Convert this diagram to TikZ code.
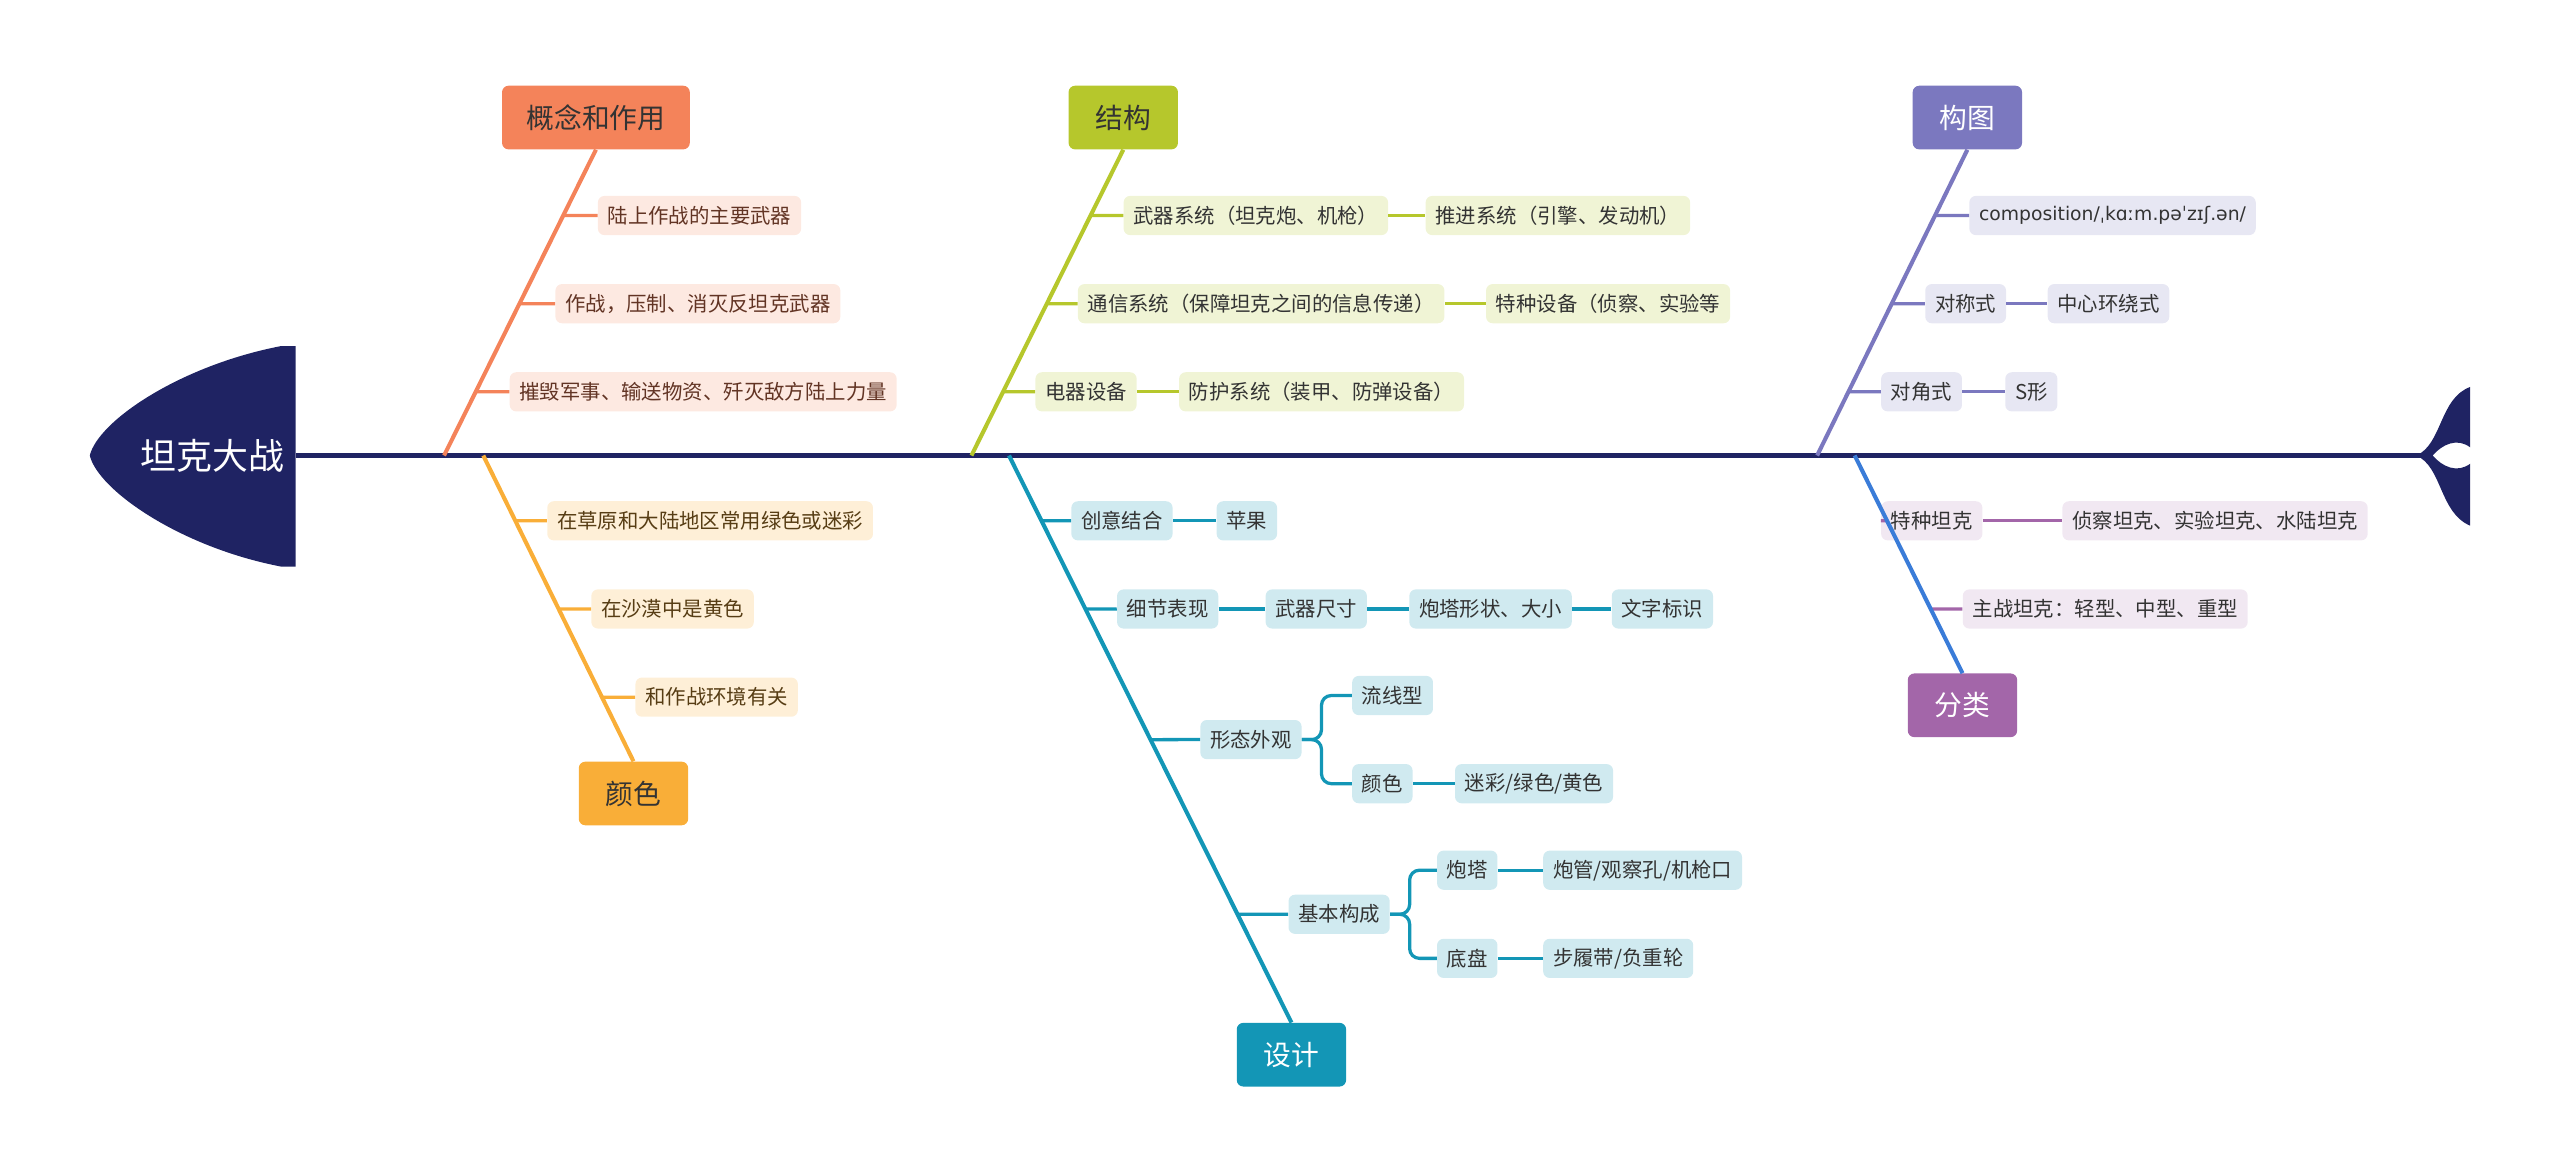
\documentclass[tikz,border=0pt]{standalone}
\usepackage{fontspec}
\setmainfont{Noto Sans CJK SC}
\newfontfamily\ipafont{DejaVu Sans}
\usetikzlibrary{positioning,calc}
\definecolor{navy}{HTML}{1F2363}
\definecolor{cOrange}{HTML}{F4835A}
\definecolor{cYellow}{HTML}{F9AE38}
\definecolor{cOlive}{HTML}{B6C72C}
\definecolor{cTeal}{HTML}{1396B6}
\definecolor{cPurple}{HTML}{7B78BF}
\definecolor{cMauve}{HTML}{A366A9}
\definecolor{cBlue}{HTML}{3A7CD8}
\tikzset{%
	% boxes
	base/.style = {rectangle, rounded corners=4pt, inner xsep=6pt, inner ysep=0pt,
		minimum height=24pt, font=\fontsize{12.5}{14}\selectfont},
	topic/.style = {base, minimum height=39pt, minimum width=67pt, inner xsep=15pt, text=white,
		font=\fontsize{17}{19}\selectfont},
	leafOrange/.style = {base, fill=cOrange!18, text=cOrange!40!black, anchor=west},
	leafYellow/.style = {base, fill=cYellow!20, text=cYellow!35!black, anchor=west},
	leafOlive/.style = {base, fill=cOlive!20, text=black!80, anchor=west},
	leafTeal/.style = {base, fill=cTeal!20, text=black!80, anchor=west},
	leafPurple/.style = {base, fill=cPurple!18, text=black!80, anchor=west},
	leafMauve/.style = {base, fill=cMauve!15, text=black!80, anchor=west},
	bone/.style = {line width=2.5pt},
	twig/.style = {line width=2pt},
}
\begin{document}
\begin{tikzpicture}[x=1pt, y=-1pt]
	\useasboundingbox (0,0) rectangle (1568,719);
	% head and tail
	\fill[navy] (181,212) -- (181,347) -- (172,347) .. controls (110,335) and (60,300) .. (55,279)
		.. controls (60,258) and (110,224) .. (172,212) -- cycle;
	\node (root) [text=white, font=\fontsize{22}{24}\selectfont] at (130,279) {坦克大战};
	\fill[navy] (1480,279) .. controls (1496,272) and (1494,244) .. (1513,237) -- (1513,274)
		.. controls (1505,268) and (1496,272) .. (1490,279) .. controls (1496,286) and (1505,290) .. (1513,284)
		-- (1513,322) .. controls (1494,314) and (1496,286) .. (1480,279) -- cycle;
	\coordinate (spineL) at (181,279);
	\coordinate (spineR) at (1484,279);
	\draw[navy, line width=3pt] (spineL) -- (spineR);
	
	% 概念和作用
	\node (use) [topic, fill=cOrange, text=black!80] at (365,72) {概念和作用};
	\coordinate (useRoot) at (272,279);
	\draw[bone, cOrange] (useRoot) -- (use.south);
	\node (use1) [leafOrange] at (366,132) {陆上作战的主要武器};
	\node (use2) [leafOrange] at (340,186) {作战，压制、消灭反坦克武器};
	\node (use3) [leafOrange] at (312,240) {摧毁军事、输送物资、歼灭敌方陆上力量};
	\foreach \n in {use1,use2,use3}
		\draw[twig, cOrange] (intersection of useRoot--use.south and \n.west--\n.east) -- (\n.west);
	
	% 颜色
	\node (color) [topic, fill=cYellow, text=black!80] at (388,486) {颜色};
	\coordinate (colorRoot) at (296,279);
	\draw[bone, cYellow] (colorRoot) -- (color.north);
	\node (color1) [leafYellow] at (335,319) {在草原和大陆地区常用绿色或迷彩};
	\node (color2) [leafYellow] at (362,373) {在沙漠中是黄色};
	\node (color3) [leafYellow] at (389,427) {和作战环境有关};
	\foreach \n in {color1,color2,color3}
		\draw[twig, cYellow] (intersection of colorRoot--color.north and \n.west--\n.east) -- (\n.west);
	
	% 结构
	\node (struct) [topic, fill=cOlive, text=black!80] at (688,72) {结构};
	\coordinate (structRoot) at (595,279);
	\draw[bone, cOlive] (structRoot) -- (struct.south);
	\node (struct1) [leafOlive] at (688,132) {武器系统（坦克炮、机枪）};
	\node (struct1a) [leafOlive] at (873,132) {推进系统（引擎、发动机）};
	\node (struct2) [leafOlive] at (660,186) {通信系统（保障坦克之间的信息传递）};
	\node (struct2a) [leafOlive] at (910,186) {特种设备（侦察、实验等};
	\node (struct3) [leafOlive] at (634,240) {电器设备};
	\node (struct3a) [leafOlive] at (722,240) {防护系统（装甲、防弹设备）};
	\foreach \n in {struct1,struct2,struct3}
		\draw[twig, cOlive] (intersection of structRoot--struct.south and \n.west--\n.east) -- (\n.west);
	\foreach \a/\b in {struct1/struct1a,struct2/struct2a,struct3/struct3a}
		\draw[twig, cOlive] (\a.east) -- (\b.west);
	
	% 设计
	\node (design) [topic, fill=cTeal, text=white] at (791,646) {设计};
	\coordinate (designRoot) at (618,279);
	\draw[bone, cTeal] (designRoot) -- (design.north);
	\node (design1) [leafTeal] at (656,319) {创意结合};
	\node (design1a) [leafTeal] at (745,319) {苹果};
	\node (design2) [leafTeal] at (684,373) {细节表现};
	\node (design2a) [leafTeal] at (775,373) {武器尺寸};
	\node (design2b) [leafTeal] at (863,373) {炮塔形状、大小};
	\node (design2c) [leafTeal] at (987,373) {文字标识};
	\node (design3) [leafTeal] at (735,453) {形态外观};
	\node (design3a) [leafTeal] at (828,426) {流线型};
	\node (design3b) [leafTeal] at (828,480) {颜色};
	\node (design3c) [leafTeal] at (891,480) {迷彩/绿色/黄色};
	\node (design4) [leafTeal] at (789,560) {基本构成};
	\node (design4a) [leafTeal] at (880,533) {炮塔};
	\node (design4b) [leafTeal] at (880,587) {底盘};
	\node (design4c) [leafTeal] at (945,533) {炮管/观察孔/机枪口};
	\node (design4d) [leafTeal] at (945,587) {步履带/负重轮};
	\foreach \n in {design1,design2,design3,design4}
		\draw[twig, cTeal] (intersection of designRoot--design.north and \n.west--\n.east) -- (\n.west);
	\foreach \a/\b in {design1/design1a,design2/design2a,design2a/design2b,design2b/design2c,
		design3b/design3c,design4a/design4c,design4b/design4d}
		\draw[twig, cTeal] (\a.east) -- (\b.west);
	\foreach \a/\b in {design3/design3a,design3/design3b,design4/design4a,design4/design4b}
		\draw[twig, cTeal, rounded corners=6pt] (\a.east) -- ++(12,0) |- (\b.west);
	
	% 构图
	\node (comp) [topic, fill=cPurple, text=white] at (1205,72) {构图};
	\coordinate (compRoot) at (1113,279);
	\draw[bone, cPurple] (compRoot) -- (comp.south);
	\node (comp1) [leafPurple, font=\ipafont\fontsize{11.5}{13}\selectfont] at (1206,132) {composition/ˌkɑːm.pəˈzɪʃ.ən/};
	\node (comp2) [leafPurple] at (1179,186) {对称式};
	\node (comp2a) [leafPurple] at (1254,186) {中心环绕式};
	\node (comp3) [leafPurple] at (1152,240) {对角式};
	\node (comp3a) [leafPurple] at (1228,240) {S形};
	\foreach \n in {comp1,comp2,comp3}
		\draw[twig, cPurple] (intersection of compRoot--comp.south and \n.west--\n.east) -- (\n.west);
	\foreach \a/\b in {comp2/comp2a,comp3/comp3a}
		\draw[twig, cPurple] (\a.east) -- (\b.west);
	
	% 分类
	\node (kind) [topic, fill=cMauve, text=white] at (1202,432) {分类};
	\coordinate (kindRoot) at (1136,279);
	\node (kind1) [leafMauve] at (1152,319) {特种坦克};
	\node (kind1a) [leafMauve] at (1263,319) {侦察坦克、实验坦克、水陆坦克};
	\node (kind2) [leafMauve] at (1202,373) {主战坦克：轻型、中型、重型};
	\foreach \n in {kind1,kind2}
		\draw[twig, cMauve] (intersection of kindRoot--kind.north and \n.west--\n.east) -- (\n.west);
	\draw[twig, cMauve] (kind1.east) -- (kind1a.west);
	\draw[bone, cBlue] (kindRoot) -- (kind.north);
\end{tikzpicture}
\end{document}
